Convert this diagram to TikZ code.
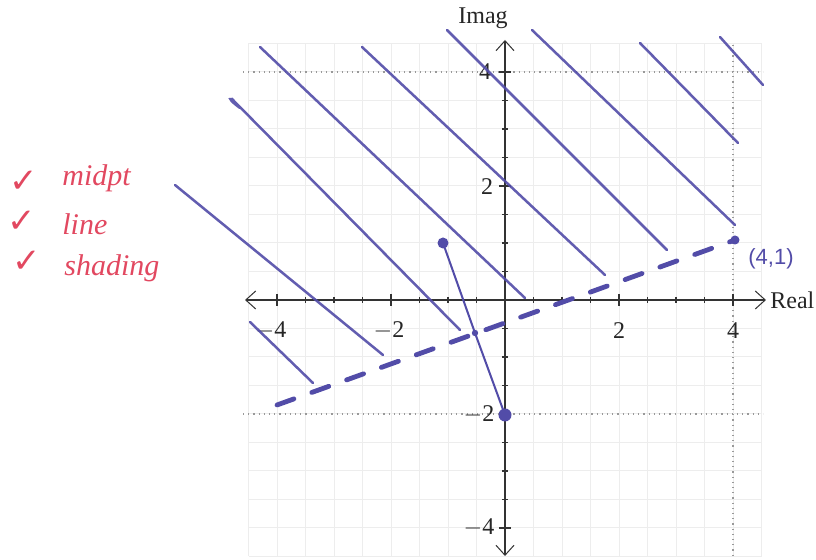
\documentclass[tikz,border=0pt]{standalone}
\usepackage{fontspec}
\setmainfont{Liberation Serif}
\newfontfamily\symfont{DejaVu Sans}
\newfontfamily\handsans{Liberation Sans}
\usetikzlibrary{arrows.meta}
\definecolor{ink}{RGB}{82,76,168}
\definecolor{redink}{RGB}{226,72,96}
\tikzset{
  gridminor/.style={draw=gray!14, line width=0.5pt},
  gridmajor/.style={draw=gray!80, line width=0.6pt, dotted},
  axisline/.style={draw=black!80, line width=0.6pt},
  axistip/.style={{Straight Barb[length=5pt,width=9pt,line width=0.5pt]}-{Straight Barb[length=5pt,width=9pt,line width=0.5pt]}},
  tickmark/.style={draw=black!80, line width=0.6pt},
  numlabel/.style={font=\fontsize{12}{14}\selectfont, text=black!85, inner sep=0pt},
  shadeline/.style={draw=ink, line width=1.25pt, line cap=round, opacity=0.9},
  segline/.style={draw=ink, line width=1pt, line cap=round},
  dashline/.style={draw=ink, line width=2.4pt, dash pattern=on 9pt off 9.5pt, line cap=round},
  dotmark/.style={circle, fill=ink, inner sep=0pt},
  redtext/.style={text=redink, font=\itshape\fontsize{15}{17}\selectfont, inner sep=0pt, anchor=west},
  redcheck/.style={text=redink, font=\symfont\fontsize{17}{19}\selectfont, inner sep=0pt},
}
\begin{document}
\begin{tikzpicture}[x=0.5pt,y=-0.5pt]
\useasboundingbox (0,0) rectangle (816,560);
\fill[white] (0,0) rectangle (816,560);

% minor grid (every 0.5 unit)
\foreach \i in {-9,...,9} {
  \draw[gridminor] ({505+28.5*\i},43.5) -- ({505+28.5*\i},556.5);
  \draw[gridminor] (248.5,{300+28.5*\i}) -- (761.5,{300+28.5*\i});
}
% darker dotted grid lines
\draw[gridmajor] (243,72) -- (763,72);
\draw[gridmajor] (243,414) -- (763,414);
\draw[gridmajor] (733,45) -- (733,558);

% axes
\coordinate (xl) at (245,300);
\coordinate (xr) at (766,300);
\coordinate (yt) at (505,40);
\coordinate (yb) at (505,556);
\draw[axisline, axistip] (xl) -- (xr);
\draw[axisline, axistip] (yb) -- (yt);

% ticks
\foreach \i in {-8,...,-1,1,2,...,8} {
  \draw[tickmark] ({505+28.5*\i},297) -- ({505+28.5*\i},303);
  \draw[tickmark] (502,{300+28.5*\i}) -- (508,{300+28.5*\i});
}
\foreach \i in {-8,-4,4,8} {
  \draw[tickmark] ({505+28.5*\i},294) -- ({505+28.5*\i},306);
  \draw[tickmark] (499,{300+28.5*\i}) -- (511,{300+28.5*\i});
}

% axis labels
\node[numlabel] (imag) at (483,18) {Imag};
\node[numlabel, anchor=west] (real) at (770,300) {Real};
\node[numlabel] (xm4) at (271,331) {$-$4};
\node[numlabel] (xm2) at (389,331) {$-$2};
\node[numlabel] (xp2) at (619,331) {2};
\node[numlabel] (xp4) at (733,331) {4};
\node[numlabel] (yp4) at (485,72) {4};
\node[numlabel] (yp2) at (487,187) {2};
\node[numlabel] (ym2) at (479,415) {$-$2};
\node[numlabel] (ym4) at (479,528) {$-$4};

% shading lines
\draw[shadeline] (175,185) -- (383,355);
\draw[shadeline] (250,322) -- (313,383);
\draw[shadeline] (240,108) .. controls (232,102) and (228,98) .. (232,99) -- (460,330);
\draw[shadeline] (260,47) -- (525,298);
\draw[shadeline] (362,47) -- (605,275);
\draw[shadeline] (447,30) -- (667,250);
\draw[shadeline] (532,30) -- (735,225);
\draw[shadeline] (640,43) -- (738,143);
\draw[shadeline] (720,37) -- (763,85);

% points
\node[dotmark, minimum size=5.5pt] (pa) at (443,243) {};
\node[dotmark, minimum size=6.5pt] (pb) at (505,415) {};
\node[dotmark, minimum size=4.5pt] (pc) at (735,240) {};
\node[dotmark, minimum size=3.2pt] (pm) at (475,333) {};
\coordinate (dstart) at (277,405);

\draw[segline] (pa.center) -- (pm.center) -- (pb.center);
\draw[dashline] (dstart) -- (pc.center);

\node[text=ink, font=\handsans\fontsize{11}{13}\selectfont, inner sep=0pt] (lab41) at (771,259) {(4,1)};

% red annotations
\node[redcheck] (c1) at (24,182) {✓};
\node[redcheck] (c2) at (22,222) {✓};
\node[redcheck] (c3) at (27,262) {✓};
\node[redtext] (t1) at (62,178) {midpt};
\node[redtext] (t2) at (62,224) {line};
\node[redtext] (t3) at (64,268) {shading};
\end{tikzpicture}
\end{document}
